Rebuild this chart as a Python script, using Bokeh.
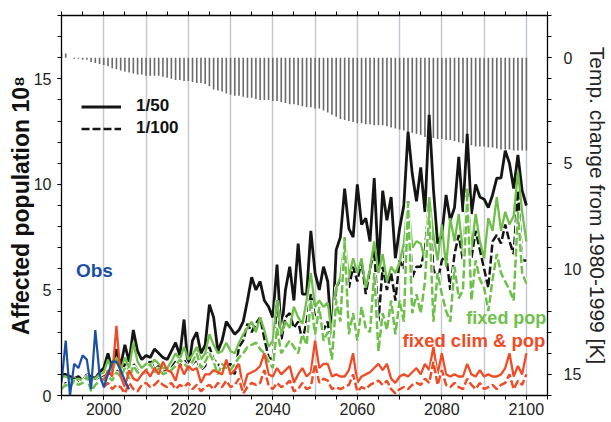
import math
from bokeh.plotting import figure
from bokeh.models import (Range1d, LinearAxis, FixedTicker, Label, Legend,
                          LegendItem, ColumnDataSource, Grid)
from bokeh.embed import file_html
from bokeh.resources import INLINE

# ---------------- data ----------------
years = list(range(1990, 2101))
red_years = list(range(2000, 2101))
obs_years = list(range(1990, 2007))

temp_change = [
    -0.2, -0.2, 0.0, 0.05, 0.05, 0.1, 0.1, 0.2, 0.25, 0.3,
    0.35, 0.4, 0.5, 0.55, 0.6, 0.65, 0.7, 0.75, 0.8, 0.8,
    0.85, 0.85, 0.85, 0.85, 0.9, 0.95, 1.0, 1.05, 1.05, 1.1,
    1.1, 1.15, 1.2, 1.2, 1.25, 1.35, 1.5, 1.55, 1.6, 1.7,
    1.75, 1.8, 1.8, 1.85, 1.9, 1.9, 1.95, 2.0, 2.0, 2.0,
    2.05, 2.05, 2.1, 2.15, 2.2, 2.2, 2.25, 2.3, 2.35, 2.35,
    2.4, 2.4, 2.5, 2.6, 2.7, 2.8, 2.9, 2.95, 3.0, 3.05,
    3.1, 3.1, 3.15, 3.15, 3.2, 3.2, 3.2, 3.25, 3.3, 3.35,
    3.4, 3.45, 3.5, 3.55, 3.6, 3.65, 3.75, 3.8, 3.8, 3.85,
    3.85, 3.9, 3.9, 3.95, 4.0, 4.05, 4.1, 4.15, 4.2, 4.2,
    4.2, 4.25, 4.25, 4.3, 4.35, 4.35, 4.35, 4.4, 4.4, 4.4,
    4.4]

all_50 = [
    1.0, 1.0, 0.9, 0.8, 0.9, 0.7, 1.0, 0.9, 0.8, 1.1,
    1.3, 2.0, 1.2, 2.2, 1.4, 2.4, 1.6, 3.1, 2.1, 1.7,
    1.9, 1.8, 2.2, 2.0, 1.8, 1.7, 2.1, 2.5, 1.9, 3.6,
    1.2, 2.6, 3.0, 2.0, 2.4, 4.3, 3.7, 2.1, 2.6, 3.5,
    3.2, 2.9, 3.1, 3.5, 4.5, 5.6, 5.0, 5.4, 4.5, 4.2,
    3.7, 6.2, 2.9, 5.0, 6.1, 4.5, 7.2, 4.8, 4.8, 7.8,
    5.8, 5.0, 6.1, 5.4, 2.6, 6.9, 7.5, 9.8, 7.9, 7.5,
    10.0, 8.1, 8.4, 7.3, 10.3, 6.1, 9.7, 8.3, 9.4, 6.5,
    7.9, 9.0, 12.5, 10.5, 9.2, 10.8, 8.7, 13.3, 9.8, 7.2,
    7.6, 9.5, 8.3, 8.9, 11.3, 8.7, 12.4, 8.6, 10.0, 9.4,
    9.3, 8.9, 9.5, 10.3, 10.3, 11.6, 11.0, 9.8, 11.4, 9.7,
    9.0]

all_100 = [
    0.3, 0.6, 0.4, 0.8, 0.6, 0.7, 1.0, 0.2, 0.5, 0.8,
    0.9, 1.0, 0.8, 1.2, 1.0, 1.5, 0.9, 1.5, 1.2, 1.0,
    1.1, 1.7, 1.2, 1.4, 1.1, 1.2, 1.3, 1.6, 1.4, 1.7,
    1.3, 1.5, 1.7, 1.2, 1.4, 2.3, 1.7, 1.5, 1.3, 1.4,
    1.5, 1.0, 2.3, 2.6, 3.4, 3.0, 3.4, 3.7, 2.7, 1.8,
    1.7, 4.5, 2.6, 3.7, 3.9, 3.2, 3.5, 2.6, 3.5, 4.8,
    3.7, 4.0, 3.1, 3.5, 1.8, 5.1, 5.5, 7.0, 5.1, 6.1,
    5.4, 6.4, 4.8, 6.0, 6.9, 3.5, 6.1, 5.0, 5.8, 4.5,
    6.4, 6.0, 9.2, 5.6, 6.1, 6.1, 6.9, 9.1, 6.0, 5.4,
    6.4, 6.7, 5.0, 6.7, 7.6, 6.4, 9.6, 6.5, 7.8, 6.9,
    6.0, 5.1, 7.3, 7.6, 7.2, 8.1, 7.3, 6.7, 9.7, 6.4,
    6.4]

fixpop_50 = [
    0.9, 0.9, 0.8, 0.7, 0.8, 0.7, 0.9, 0.8, 0.8, 1.0,
    1.1, 1.7, 1.1, 1.8, 1.2, 1.8, 1.3, 2.5, 1.6, 1.3,
    1.5, 1.4, 1.7, 1.5, 1.3, 1.3, 1.6, 2.0, 1.7, 2.3,
    1.7, 1.9, 2.3, 1.7, 2.0, 2.9, 2.4, 2.0, 2.1, 2.5,
    2.1, 2.0, 2.5, 2.9, 3.2, 3.5, 3.0, 3.7, 3.1, 2.3,
    2.6, 4.5, 2.9, 3.5, 3.2, 4.2, 3.7, 3.4, 4.5, 5.8,
    4.2, 4.5, 4.2, 4.4, 2.9, 5.1, 5.6, 7.5, 5.6, 6.5,
    5.8, 6.5, 5.1, 6.0, 7.3, 5.8, 6.7, 5.4, 6.1, 5.8,
    6.3, 7.2, 9.2, 7.0, 7.3, 7.2, 6.4, 9.4, 7.6, 6.4,
    8.1, 6.1, 8.4, 7.3, 8.6, 6.7, 9.8, 6.9, 8.6, 7.3,
    6.5, 8.4, 7.8, 9.4, 7.8, 8.7, 8.1, 8.5, 10.6, 8.7,
    7.3]

fixpop_100 = [
    0.3, 0.5, 0.4, 0.7, 0.5, 0.6, 0.9, 0.2, 0.5, 0.7,
    0.8, 0.9, 0.7, 1.1, 0.9, 1.3, 0.8, 1.4, 1.1, 1.0,
    1.2, 1.5, 1.1, 1.3, 1.0, 1.1, 1.2, 1.4, 1.7, 1.5,
    1.3, 1.6, 2.0, 1.3, 1.6, 2.0, 1.6, 1.0, 1.5, 1.3,
    1.2, 1.5, 1.8, 2.0, 2.3, 2.4, 2.5, 2.2, 2.0, 1.6,
    1.3, 3.2, 2.0, 2.3, 2.6, 2.3, 2.0, 2.9, 2.4, 4.5,
    2.9, 4.2, 2.6, 3.0, 1.7, 4.5, 3.5, 7.3, 2.9, 3.9,
    2.6, 4.2, 3.2, 3.0, 5.8, 2.1, 3.9, 3.1, 4.5, 2.9,
    4.5, 3.5, 9.1, 3.9, 4.8, 3.9, 5.4, 8.7, 3.5, 5.8,
    4.8, 4.0, 3.5, 6.1, 4.6, 5.0, 9.4, 4.5, 6.4, 5.5,
    5.1, 4.0, 5.5, 6.7, 5.8, 5.4, 5.0, 4.5, 8.7, 5.8,
    5.3]

fixclimpop_50 = [
    0.7, 1.2, 0.9, 3.3, 0.9, 0.4, 1.2, 0.8, 0.7, 1.0,
    1.2, 0.9, 1.3, 1.0, 1.6, 1.2, 1.1, 0.7, 1.5, 1.0,
    1.4, 1.2, 1.3, 0.6, 1.0, 1.0, 1.2, 1.1, 1.0, 1.7,
    1.0, 1.2, 1.5, 0.3, 1.0, 1.1, 1.2, 1.4, 2.0, 1.0,
    0.9, 1.3, 1.0, 1.2, 1.4, 0.6, 1.0, 1.3, 0.9, 1.1,
    2.6, 1.3, 1.5, 1.5, 0.9, 1.0, 0.9, 0.9, 1.2, 2.0,
    0.6, 0.9, 1.0, 1.1, 1.3, 1.5, 1.2, 1.5, 0.8, 0.6,
    0.9, 1.0, 0.9, 1.1, 1.3, 1.0, 1.5, 1.2, 2.3, 1.0,
    2.0, 1.0, 0.9, 1.0, 0.9, 0.9, 1.5, 1.0, 0.9, 1.2,
    0.9, 1.0, 0.9, 0.9, 1.0, 1.3, 2.0, 0.9, 1.4, 1.0,
    2.0]

fixclimpop_100 = [
    0.4, 0.6, 0.3, 0.5, 0.4, 0.1, 0.6, 0.3, 0.2, 0.5,
    0.6, 0.4, 0.5, 0.7, 0.5, 0.4, 0.6, 0.3, 0.5, 0.4,
    0.6, 0.3, 0.5, 0.2, 0.4, 0.5, 0.3, 0.6, 0.4, 0.7,
    0.4, 0.5, 0.8, 0.1, 0.4, 0.6, 0.5, 0.6, 1.2, 0.5,
    0.3, 0.6, 0.4, 0.5, 0.7, 0.2, 0.3, 0.6, 0.3, 0.4,
    1.5, 0.6, 0.8, 0.7, 0.3, 0.4, 0.3, 0.4, 0.5, 1.0,
    0.2, 0.4, 0.3, 0.5, 0.6, 0.7, 0.5, 0.7, 0.3, 0.1,
    0.3, 0.4, 0.3, 0.5, 0.6, 0.5, 0.8, 0.6, 1.6, 0.5,
    1.2, 0.5, 0.4, 0.6, 0.4, 0.3, 0.8, 0.5, 0.3, 0.6,
    0.3, 0.4, 0.5, 0.3, 0.5, 0.6, 1.0, 0.3, 0.7, 0.5,
    1.0]

obs = [0.6, 2.6, 0.0, 1.5, 1.3, 1.9, 1.7, 0.3, 3.1, 1.0,
       0.4, 1.0, 1.6, 1.6, 1.2, 0.7, 0.3]

x_major = [2000, 2020, 2040, 2060, 2080, 2100]
x_minor = list(range(1990, 2106, 5))
x_grid = list(range(2000, 2101, 10))
y_major = [0, 5, 10, 15]

# ---------------- styling ----------------
FONT = "Liberation Sans"
BLACK = "#151515"
GREEN = "#6fc04a"
RED = "#f04b25"
BLUE = "#1c4fa3"
GRAY_BAR = "#6a6a6a"

p = figure(frame_width=486, frame_height=380, output_backend="svg",
           toolbar_location=None,
           x_range=Range1d(1990, 2105), y_range=Range1d(0, 18),
           min_border_left=61, min_border_right=64, min_border_top=15,
           min_border_bottom=27, x_axis_location=None, y_axis_location=None)
p.extra_y_ranges = {"temp": Range1d(16, -2)}
p.outline_line_color = None
p.background_fill_color = "white"
p.border_fill_color = "white"

def style_axis(ax, labels=True, size="16px"):
    ax.axis_line_color = "black"
    ax.axis_line_width = 1.3
    ax.major_tick_line_color = "black"
    ax.minor_tick_line_color = "black"
    ax.major_tick_in = 0
    ax.major_tick_out = 4
    ax.minor_tick_in = 0
    ax.minor_tick_out = 4
    ax.major_label_text_font = FONT
    ax.major_label_text_color = "#222222" if labels else None
    ax.major_label_text_font_size = size if labels else "1px"

xb = LinearAxis(ticker=FixedTicker(ticks=x_major, minor_ticks=x_minor))
style_axis(xb)
xb.major_label_standoff = 3
p.add_layout(xb, "below")

xt = LinearAxis(ticker=FixedTicker(ticks=x_major, minor_ticks=x_minor))
style_axis(xt, labels=False)
xt.major_label_standoff = 0
p.add_layout(xt, "above")

yl = LinearAxis(ticker=FixedTicker(ticks=y_major, minor_ticks=list(range(0, 19))),
                axis_label="Affected population 10\u2078")
style_axis(yl)
yl.major_label_standoff = 6
yl.axis_label_standoff = -3
yl.axis_label_text_font = FONT
yl.axis_label_text_font_style = "bold"
yl.axis_label_text_font_size = "23px"
yl.axis_label_text_color = "#111111"
p.add_layout(yl, "left")

yr = LinearAxis(y_range_name="temp",
                ticker=FixedTicker(ticks=y_major, minor_ticks=list(range(-2, 17))),
                axis_label="Temp. change from 1980-1999 [K]")
style_axis(yr)
yr.major_label_standoff = 12
yr.axis_label_standoff = 2
yr.axis_label_text_font = FONT
yr.axis_label_text_font_style = "normal"
yr.axis_label_text_font_size = "21px"
yr.axis_label_text_color = "#222222"
yr.axis_label_orientation = "vertical"
p.add_layout(yr, "right")

p.xgrid.visible = False
p.ygrid.visible = False
g = Grid(dimension=0, ticker=FixedTicker(ticks=x_grid),
         grid_line_color="#c3c9cf", grid_line_width=1.5)
p.add_layout(g)

# temperature bars (right axis, inverted)
src_t = ColumnDataSource(dict(x=years, t=temp_change, z=[0] * len(years)))
p.vbar(x="x", top="z", bottom="t", width=0.38, source=src_t,
       y_range_name="temp", fill_color=GRAY_BAR, line_color=None)

DASH = "8 3"

def dashed(xs, ys, color):
    p.line(xs, ys, line_color="white", line_width=4.2)
    return p.line(xs, ys, line_color=color, line_width=2.5, line_dash=DASH)

r50 = p.line(years, all_50, line_color=BLACK, line_width=2.8)
r100 = dashed(years, all_100, BLACK)
p.line(years, fixpop_50, line_color=GREEN, line_width=2.3)
dashed(years, fixpop_100, GREEN)
p.line(red_years, fixclimpop_50, line_color=RED, line_width=2.3)
dashed(red_years, fixclimpop_100, RED)
p.line(obs_years, obs, line_color=BLUE, line_width=2.2)

legend = Legend(items=[LegendItem(label="1/50", renderers=[r50]),
                       LegendItem(label="1/100", renderers=[r100])],
                location=(20, 257), glyph_width=40, glyph_height=17,
                label_height=17, label_standoff=15, spacing=2, padding=0,
                margin=0, background_fill_alpha=0, border_line_color=None,
                label_text_font=FONT, label_text_font_style="bold",
                label_text_font_size="17px", label_text_color="#111111")
p.add_layout(legend)

for txt, x, y, col, size in [("Obs", 1997.8, 5.9, BLUE, "19px"),
                             ("fixed pop", 2085.8, 3.65, GREEN, "18px"),
                             ("fixed clim & pop", 2070.7, 2.6, RED, "18.5px")]:
    p.add_layout(Label(x=x, y=y, text=txt, text_color=col, text_font=FONT,
                       text_font_style="bold", text_font_size=size,
                       text_align="center" if txt == "Obs" else "left",
                       text_baseline="middle"))

open("out.html", "w").write(file_html(p, INLINE))
